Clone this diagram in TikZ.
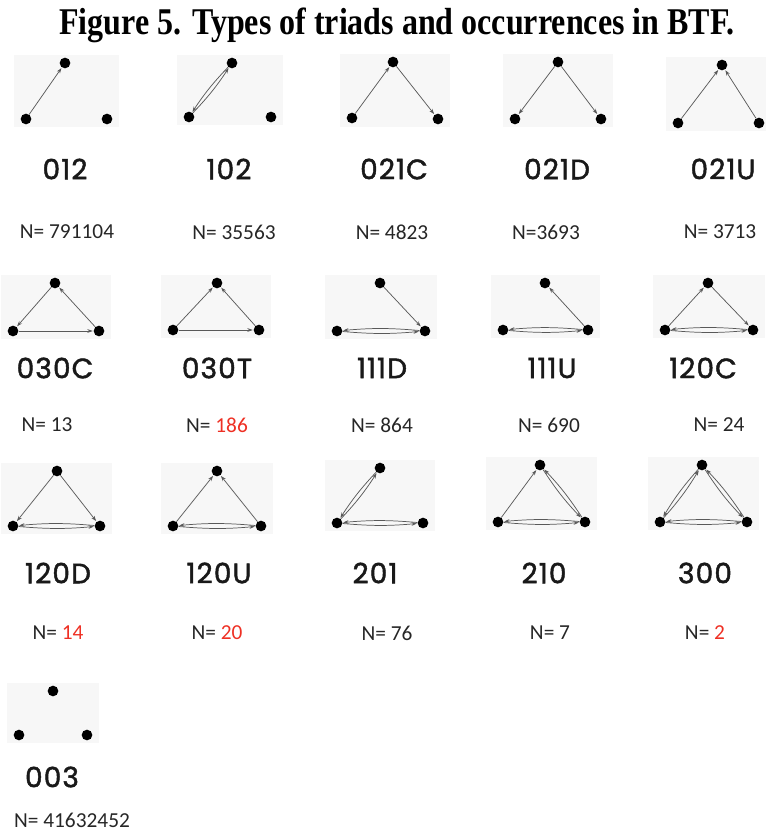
\documentclass[tikz,border=0pt]{standalone}
\usepackage{fontspec}
\setmainfont{Liberation Serif}
\newfontfamily\triadfont{Poppins}[FakeBold=1.6,LetterSpace=4]
\newfontfamily\occfont{Carlito}
\usetikzlibrary{
    arrows.meta,
    fit,
    backgrounds
}
\definecolor{occred}{RGB}{238,48,36}

\begin{document}
\begin{tikzpicture}[
        x=0.75pt, y=-0.75pt,
        dot/.style={circle,fill=black,inner sep=0pt,minimum size=8pt},
        arc/.style={-{Stealth[length=4pt,width=2.8pt]},line width=0.55pt,draw=black!65,shorten >=0.5pt},
        mutual/.style={arc,bend right=5},
        panel/.style={rectangle,fill=black!3,inner xsep=4.5pt,inner ysep=1.5pt},
        triad/.style={font=\triadfont\fontsize{21}{23}\selectfont,text=black!90,inner sep=0pt},
        occ/.style={font=\occfont\fontsize{16}{18}\selectfont,text=black!85,inner sep=0pt},
        title/.style={font=\bfseries\fontsize{24}{28}\selectfont,inner sep=0pt}
    ]
    \useasboundingbox (0,0) rectangle (765,831);
    \node[title] (title) at (397,25) {\scalebox{1}[1.18]{Figure 5. Types of triads and occurrences in BTF.}};

    % row 1
    \node[dot] (t012) at (65,63) {};
    \node[dot] (l012) at (26,119) {};
    \node[dot] (r012) at (107,119) {};
    \node[dot] (t102) at (232,63) {};
    \node[dot] (l102) at (189,117) {};
    \node[dot] (r102) at (271,117) {};
    \node[dot] (t021C) at (393,62) {};
    \node[dot] (l021C) at (352,118) {};
    \node[dot] (r021C) at (438,119) {};
    \node[dot] (t021D) at (558,62) {};
    \node[dot] (l021D) at (515,119) {};
    \node[dot] (r021D) at (601,119) {};
    \node[dot] (t021U) at (722,65) {};
    \node[dot] (l021U) at (678,123) {};
    \node[dot] (r021U) at (759,123) {};

    \draw[arc] (l012) -- (t012);
    \draw[mutual] (l102) to (t102);
    \draw[mutual] (t102) to (l102);
    \draw[arc] (l021C) -- (t021C);
    \draw[arc] (t021C) -- (r021C);
    \draw[arc] (t021D) -- (l021D);
    \draw[arc] (t021D) -- (r021D);
    \draw[arc] (l021U) -- (t021U);
    \draw[arc] (r021U) -- (t021U);

    \node[triad] (lab012) at (65,169) {012};
    \node[triad] (lab102) at (229,169) {102};
    \node[triad] (lab021C) at (394,169) {021C};
    \node[triad] (lab021D) at (557,169) {021D};
    \node[triad] (lab021U) at (723,169) {021U};
    \node[occ] (n012) at (67,232) {N= 791104};
    \node[occ] (n102) at (234,232) {N= 35563};
    \node[occ] (n021C) at (392,232) {N= 4823};
    \node[occ] (n021D) at (546,232) {N=3693};
    \node[occ] (n021U) at (720,232) {N= 3713};

    % row 2
    \node[dot] (t030C) at (55,283) {};
    \node[dot] (l030C) at (13,331) {};
    \node[dot] (r030C) at (99,331) {};
    \node[dot] (t030T) at (217,283) {};
    \node[dot] (l030T) at (173,330) {};
    \node[dot] (r030T) at (259,330) {};
    \node[dot] (t111D) at (380,283) {};
    \node[dot] (l111D) at (337,331) {};
    \node[dot] (r111D) at (425,331) {};
    \node[dot] (t111U) at (545,283) {};
    \node[dot] (l111U) at (503,330) {};
    \node[dot] (r111U) at (588,330) {};
    \node[dot] (t120C) at (708,283) {};
    \node[dot] (l120C) at (665,330) {};
    \node[dot] (r120C) at (753,330) {};

    \draw[arc] (t030C) -- (l030C);
    \draw[arc] (l030C) -- (r030C);
    \draw[arc] (r030C) -- (t030C);
    \draw[arc] (l030T) -- (t030T);
    \draw[arc] (r030T) -- (t030T);
    \draw[arc] (l030T) -- (r030T);
    \draw[arc] (t111D) -- (r111D);
    \draw[mutual] (l111D) to (r111D);
    \draw[mutual] (r111D) to (l111D);
    \draw[arc] (r111U) -- (t111U);
    \draw[mutual] (l111U) to (r111U);
    \draw[mutual] (r111U) to (l111U);
    \draw[arc] (l120C) -- (t120C);
    \draw[arc] (t120C) -- (r120C);
    \draw[mutual] (l120C) to (r120C);
    \draw[mutual] (r120C) to (l120C);

    \node[triad] (lab030C) at (55,368) {030C};
    \node[triad] (lab030T) at (217,368) {030T};
    \node[triad] (lab111D) at (382,368) {111D};
    \node[triad] (lab111U) at (552,368) {111U};
    \node[triad] (lab120C) at (703,368) {120C};
    \node[occ] (n030C) at (47,425) {N= 13};
    \node[occ] (n030T) at (217,425) {N= \textcolor{occred}{186}};
    \node[occ] (n111D) at (382,425) {N= 864};
    \node[occ] (n111U) at (549,425) {N= 690};
    \node[occ] (n120C) at (719,425) {N= 24};

    % row 3
    \node[dot] (t120D) at (57,471) {};
    \node[dot] (l120D) at (13,526) {};
    \node[dot] (r120D) at (100,526) {};
    \node[dot] (t120U) at (217,471) {};
    \node[dot] (l120U) at (173,526) {};
    \node[dot] (r120U) at (261,526) {};
    \node[dot] (t201) at (380,468) {};
    \node[dot] (l201) at (337,523) {};
    \node[dot] (r201) at (423,523) {};
    \node[dot] (t210) at (540,465) {};
    \node[dot] (l210) at (498,522) {};
    \node[dot] (r210) at (585,522) {};
    \node[dot] (t300) at (702,465) {};
    \node[dot] (l300) at (660,522) {};
    \node[dot] (r300) at (747,522) {};

    \draw[arc] (t120D) -- (l120D);
    \draw[arc] (t120D) -- (r120D);
    \draw[mutual] (l120D) to (r120D);
    \draw[mutual] (r120D) to (l120D);
    \draw[arc] (l120U) -- (t120U);
    \draw[arc] (r120U) -- (t120U);
    \draw[mutual] (l120U) to (r120U);
    \draw[mutual] (r120U) to (l120U);
    \draw[mutual] (l201) to (t201);
    \draw[mutual] (t201) to (l201);
    \draw[mutual] (l201) to (r201);
    \draw[mutual] (r201) to (l201);
    \draw[arc] (l210) -- (t210);
    \draw[mutual] (t210) to (r210);
    \draw[mutual] (r210) to (t210);
    \draw[mutual] (l210) to (r210);
    \draw[mutual] (r210) to (l210);
    \draw[mutual] (l300) to (t300);
    \draw[mutual] (t300) to (l300);
    \draw[mutual] (t300) to (r300);
    \draw[mutual] (r300) to (t300);
    \draw[mutual] (l300) to (r300);
    \draw[mutual] (r300) to (l300);

    \node[triad] (lab120D) at (58,573) {120D};
    \node[triad] (lab120U) at (219,573) {120U};
    \node[triad] (lab201) at (375,573) {201};
    \node[triad] (lab210) at (544,573) {210};
    \node[triad] (lab300) at (705,573) {300};
    \node[occ] (n120D) at (58,633) {N= \textcolor{occred}{14}};
    \node[occ] (n120U) at (217,633) {N= \textcolor{occred}{20}};
    \node[occ] (n201) at (387,633) {N= 76};
    \node[occ] (n210) at (550,633) {N= 7};
    \node[occ] (n300) at (705,633) {N= \textcolor{occred}{2}};

    % row 4
    \node[dot] (t003) at (53,691) {};
    \node[dot] (l003) at (19,735) {};
    \node[dot] (r003) at (87,735) {};
    \node[triad] (lab003) at (52,777) {003};
    \node[occ] (n003) at (72,820) {N= 41632452};

    \begin{scope}[on background layer]
        \node[panel,fit=(t012)(l012)(r012)] {};
        \node[panel,fit=(t102)(l102)(r102)] {};
        \node[panel,fit=(t021C)(l021C)(r021C)] {};
        \node[panel,fit=(t021D)(l021D)(r021D)] {};
        \node[panel,fit=(t021U)(l021U)(r021U)] {};
        \node[panel,fit=(t030C)(l030C)(r030C)] {};
        \node[panel,fit=(t030T)(l030T)(r030T)] {};
        \node[panel,fit=(t111D)(l111D)(r111D)] {};
        \node[panel,fit=(t111U)(l111U)(r111U)] {};
        \node[panel,fit=(t120C)(l120C)(r120C)] {};
        \node[panel,fit=(t120D)(l120D)(r120D)] {};
        \node[panel,fit=(t120U)(l120U)(r120U)] {};
        \node[panel,fit=(t201)(l201)(r201)] {};
        \node[panel,fit=(t210)(l210)(r210)] {};
        \node[panel,fit=(t300)(l300)(r300)] {};
        \node[panel,fit=(t003)(l003)(r003)] {};
    \end{scope}
\end{tikzpicture}
\end{document}
